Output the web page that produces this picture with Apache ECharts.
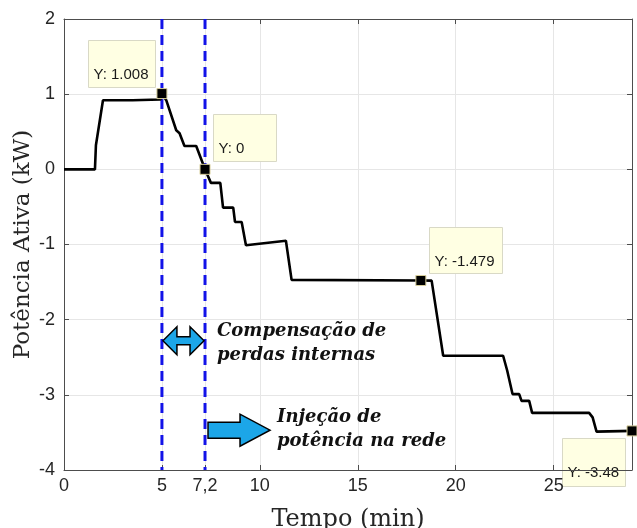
<!DOCTYPE html>
<html>
<head>
<meta charset="utf-8">
<script src="https://cdn.jsdelivr.net/npm/echarts@6/dist/echarts.min.js"></script>
<style>
  html, body { margin: 0; padding: 0; background: #fff; }
  #chart { width: 637px; height: 528px; }
</style>
</head>
<body>
<div id="chart"></div>
<script>
// measured trace: time (min) vs active power (kW)
const timeMin = [0, 1.58, 1.63, 1.99, 3.5, 4.93, 5.0, 5.22, 5.73, 5.9, 6.15, 6.75, 7.2,
  7.5, 7.98, 8.12, 8.64, 8.73, 9.07, 9.29, 11.33, 11.62, 18.22, 18.77, 19.36,
  22.42, 22.63, 22.73, 22.9, 23.24, 23.36, 23.75, 23.9, 26.81, 26.99, 27.19, 29.0];
const powerKW = [0, 0, 0.32, 0.92, 0.92, 0.93, 1.008, 0.92, 0.52, 0.48, 0.31, 0.31, 0,
  -0.18, -0.18, -0.51, -0.51, -0.70, -0.70, -1.01, -0.95, -1.47, -1.479, -1.48, -2.48,
  -2.48, -2.68, -2.68, -2.99, -2.99, -3.08, -3.08, -3.24, -3.24, -3.30, -3.49, -3.48];

// data tips
const tipTimes = [5.0, 7.2, 18.22, 29.0];
const tipValues = [1.008, 0, -1.479, -3.48];
const tipLabels = ['Y: 1.008', 'Y: 0', 'Y: -1.479', 'Y: -3.48'];

// vertical markers
const markTimes = [5, 7.2];
const xTickValues = [0, 5, 7.2, 10, 15, 20, 25];

const textColor = '#262626';
const axisColor = '#4d4d4d';
const gridColor = '#e6e6e6';

const chart = echarts.init(document.getElementById('chart'), null, { renderer: 'canvas' });

const line = timeMin.map((t, i) => [t, powerKW[i]]);
const tips = tipTimes.map((t, i) => [t, tipValues[i]]);

const markSeries = markTimes.map(t => ({
  type: 'line',
  data: [[t, 2], [t, -4]],
  symbol: 'none',
  silent: true,
  z: 3,
  lineStyle: { color: '#1212e8', width: 3, type: [10, 6] }
}));

const option = {
  animation: false,
  backgroundColor: '#fff',
  grid: { left: 64, right: 5, top: 19, bottom: 58, containLabel: false, outerBoundsMode: 'none' },
  xAxis: [
    {
      type: 'value', min: 0, max: 29, interval: 5,
      name: 'Tempo (min)', nameLocation: 'middle', nameGap: 38, nameMoveOverlap: false,
      nameTextStyle: { fontFamily: 'DejaVu Serif', fontSize: 24, color: textColor },
      axisLine: { show: true, onZero: false, lineStyle: { color: axisColor, width: 1 } },
      axisTick: { show: true, inside: true, length: 5, customValues: xTickValues, lineStyle: { color: axisColor } },
      axisLabel: {
        customValues: xTickValues, margin: 7,
        fontFamily: 'Liberation Sans', fontSize: 18, color: textColor,
        formatter: v => String(v).replace('.', ',')
      },
      splitLine: { show: true, lineStyle: { color: gridColor, width: 1 } }
    },
    {
      type: 'value', min: 0, max: 29, position: 'top',
      axisLine: { show: true, onZero: false, lineStyle: { color: axisColor, width: 1 } },
      axisTick: { show: true, inside: true, length: 5, customValues: xTickValues, lineStyle: { color: axisColor } },
      axisLabel: { show: false },
      splitLine: { show: false }
    }
  ],
  yAxis: [
    {
      type: 'value', min: -4, max: 2, interval: 1,
      name: 'Potência Ativa (kW)', nameLocation: 'middle', nameGap: 29, nameMoveOverlap: false,
      nameTextStyle: { fontFamily: 'DejaVu Serif', fontSize: 23, color: textColor },
      axisLine: { show: true, onZero: false, lineStyle: { color: axisColor, width: 1 } },
      axisTick: { show: true, inside: true, length: 5, lineStyle: { color: axisColor } },
      axisLabel: { margin: 9, fontFamily: 'Liberation Sans', fontSize: 18, color: textColor },
      splitLine: { show: true, lineStyle: { color: gridColor, width: 1 } }
    },
    {
      type: 'value', min: -4, max: 2, interval: 1, position: 'right',
      axisLine: { show: true, onZero: false, lineStyle: { color: axisColor, width: 1 } },
      axisTick: { show: true, inside: true, length: 5, lineStyle: { color: axisColor } },
      axisLabel: { show: false },
      splitLine: { show: false }
    }
  ],
  series: [
    ...markSeries,
    {
      type: 'line',
      data: line,
      symbol: 'none',
      z: 4,
      lineStyle: { color: '#000', width: 2.6 }
    },
    {
      type: 'scatter',
      data: tips,
      symbol: 'rect',
      symbolSize: 10,
      clip: false,
      z: 5,
      itemStyle: { color: '#000', borderColor: '#d8cf9c', borderWidth: 1, opacity: 1 }
    }
  ]
};

chart.setOption(option);

// data tip boxes, placed relative to their points: [dx, dy, w, h]
const tipBoxes = [[-74, -54, 67, 47], [8, -55, 63, 47], [8, -54, 73, 46], [-70, 7, 63, 48]];

const px = (x, y) => chart.convertToPixel({ gridIndex: 0 }, [x, y]);

const graphics = tips.map((p, i) => {
  const c = px(p[0], p[1]);
  const b = tipBoxes[i];
  return {
    type: 'group', x: Math.round(c[0] + b[0]) + 0.5, y: Math.round(c[1] + b[1]) + 0.5, z: 10,
    children: [
      { type: 'rect', shape: { x: 0, y: 0, width: b[2], height: b[3] },
        style: { fill: '#ffffe3', stroke: '#d9d9c6', lineWidth: 1 } },
      { type: 'text', x: 5, y: 34,
        style: { text: tipLabels[i], font: '15px "Liberation Sans"', fill: '#1a1a1a', verticalAlign: 'middle' } }
    ]
  };
});

// double arrow between the two markers
const a0 = px(markTimes[0], -2.28), a1 = px(markTimes[1], -2.28);
const cy = a0[1];
const x0 = a0[0] + 1, x1 = a1[0] - 1;
graphics.push({
  type: 'polygon', z: 10,
  shape: { points: [
    [x0, cy], [x0 + 14, cy - 14], [x0 + 14, cy - 4], [x1 - 14, cy - 4], [x1 - 14, cy - 14],
    [x1, cy], [x1 - 14, cy + 14], [x1 - 14, cy + 4], [x0 + 14, cy + 4], [x0 + 14, cy + 14]
  ] },
  style: { fill: '#1ca6e8', stroke: '#000', lineWidth: 1.5 }
});

// right arrow
const r0 = px(markTimes[1], -3.47);
const rx = r0[0] + 3, ry = r0[1];
graphics.push({
  type: 'polygon', z: 10,
  shape: { points: [
    [rx, ry - 8], [rx + 32, ry - 8], [rx + 32, ry - 16], [rx + 62, ry],
    [rx + 32, ry + 16], [rx + 32, ry + 8], [rx, ry + 8]
  ] },
  style: { fill: '#1ca6e8', stroke: '#000', lineWidth: 1.5 }
});

graphics.push({
  type: 'text', x: 217, y: 319, z: 10,
  style: { text: 'Compensação de\nperdas internas', font: 'italic bold 18px "DejaVu Serif"',
    fill: '#111', lineHeight: 24, verticalAlign: 'top' }
});
graphics.push({
  type: 'text', x: 277, y: 405, z: 10,
  style: { text: 'Injeção de\npotência na rede', font: 'italic bold 18px "DejaVu Serif"',
    fill: '#111', lineHeight: 24, verticalAlign: 'top' }
});

chart.setOption({ graphic: graphics });
</script>
</body>
</html>
